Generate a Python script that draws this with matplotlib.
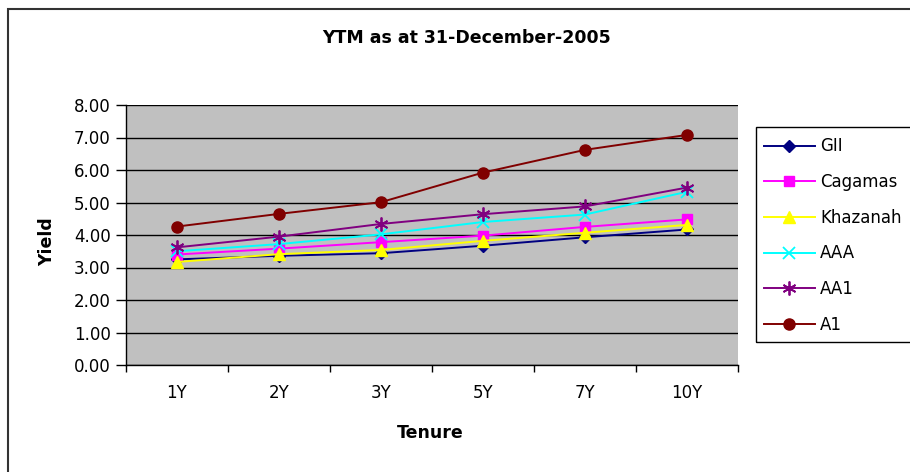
import numpy as np
import matplotlib
matplotlib.use('Agg')
import matplotlib.pyplot as plt
from matplotlib.patches import Rectangle

plt.rcParams['font.family'] = ['DejaVu Sans']

# Data
tenures = ['1Y', '2Y', '3Y', '5Y', '7Y', '10Y']
gii = [3.25, 3.36, 3.44, 3.67, 3.93, 4.17]
cagamas = [3.40, 3.58, 3.78, 3.98, 4.25, 4.48]
khazanah = [3.17, 3.41, 3.54, 3.82, 4.07, 4.31]
aaa = [3.50, 3.72, 4.02, 4.40, 4.63, 5.33]
aa1 = [3.62, 3.95, 4.34, 4.64, 4.88, 5.46]
a1 = [4.26, 4.65, 5.01, 5.92, 6.62, 7.08]

W, H = 910, 472
fig = plt.figure(figsize=(W / 100, H / 100), dpi=100)
fig.patch.set_facecolor('white')

# outer chart frame (runs off right and bottom edge)
fig.patches.append(Rectangle((8 / W, -0.05), 1.0, 1 - 8.5 / H + 0.05,
                             transform=fig.transFigure, fill=False,
                             edgecolor='#333333', linewidth=1.5))
# legend box, also cut by the right edge
fig.patches.append(Rectangle((756 / W, 1 - 342 / H), 0.2, 215 / H,
                             transform=fig.transFigure, fill=False,
                             edgecolor='black', linewidth=1.0))

ax = fig.add_axes([126 / W, (H - 365) / H, 612 / W, 260 / H])
ax.set_facecolor('#C0C0C0')

x = np.arange(len(tenures))
series = [
    ('GII', gii, '#000080', dict(marker='D', markersize=6)),
    ('Cagamas', cagamas, '#FF00FF', dict(marker='s', markersize=7)),
    ('Khazanah', khazanah, '#FFFF00', dict(marker='^', markersize=9)),
    ('AAA', aaa, '#00FFFF', dict(marker='x', markersize=8, markeredgewidth=1.3)),
    ('AA1', aa1, '#800080', dict(marker=(6, 2, 0), markersize=10, markeredgewidth=1.3)),
    ('A1', a1, '#800000', dict(marker='o', markersize=8)),
]
for name, vals, col, mk in series:
    ax.plot(x, vals, color=col, linewidth=1.4, label=name,
            markerfacecolor=col, markeredgecolor=col, clip_on=False, **mk)

ax.set_xlim(-0.5, len(tenures) - 0.5)
ax.set_ylim(0, 8)
ax.set_yticks(np.arange(0, 9, 1))
ax.set_yticklabels(['%.2f' % v for v in np.arange(0, 9, 1)])
ax.yaxis.grid(True, color='black', linewidth=1.0)
ax.set_axisbelow(True)

ax.set_xticks(np.arange(-0.5, len(tenures), 1))
ax.set_xticklabels([])
ax.set_xticks(x, minor=True)
ax.set_xticklabels(tenures, minor=True)
ax.tick_params(axis='x', which='major', direction='out', length=5, width=1)
ax.tick_params(axis='x', which='minor', length=0, pad=14, labelsize=12)
ax.tick_params(axis='y', direction='out', length=7, width=1, pad=4, labelsize=12)

for s in ['top', 'right']:
    ax.spines[s].set_visible(False)
for s in ['left', 'bottom']:
    ax.spines[s].set_color('black')
    ax.spines[s].set_linewidth(1.0)

fig.text(467 / W, 1 - 38 / H, 'YTM as at 31-December-2005', ha='center', va='center',
         fontsize=12.5, fontweight='bold')
fig.text(47 / W, 1 - 242 / H, 'Yield', ha='center', va='center', rotation=90,
         fontsize=12.5, fontweight='bold')
fig.text(430 / W, 1 - 433 / H, 'Tenure', ha='center', va='center',
         fontsize=12.5, fontweight='bold')

leg = ax.legend(loc='upper left', bbox_to_anchor=(756 / W, 1 - 130 / H),
                bbox_transform=fig.transFigure, borderaxespad=0, fontsize=12,
                frameon=False, handlelength=3.1, handletextpad=0.3,
                labelspacing=1.06, borderpad=0.45)

fig.savefig('out.png', dpi=100)
